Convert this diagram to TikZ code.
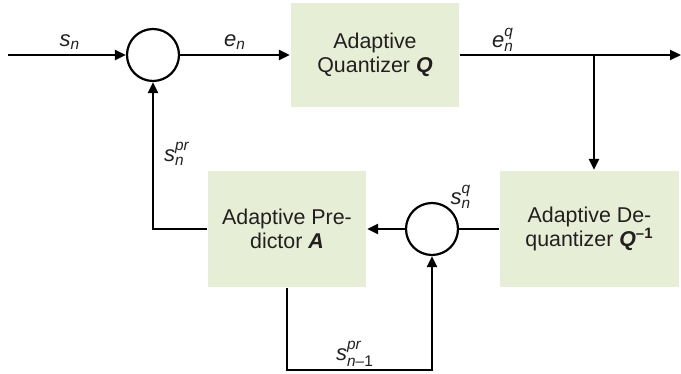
\documentclass[tikz,border=0pt]{standalone}
\usepackage{amsmath}
\usepackage{fontspec}
\setmainfont{Liberation Sans}
\definecolor{BoxGreen}{RGB}{230, 239, 214}
\definecolor{TextGray}{RGB}{35, 31, 32}
\usetikzlibrary{arrows.meta}
\newcommand{\iv}[1]{\text{\itshape #1}}

\begin{document}
\begin{tikzpicture}[x=0.5pt, y=0.5pt, line width=1.1pt,
  box/.style={fill=BoxGreen, align=center, text=TextGray, font=\fontsize{10.7}{12}\selectfont},
  sumnode/.style={circle, draw, fill=white, minimum size=26pt, inner sep=0pt},
  lbl/.style={text=TextGray, font=\fontsize{11}{12}\selectfont},
  flow/.style={-{Triangle[length=5.5pt, width=5pt]}}]
\useasboundingbox (0,0) rectangle (681,374);
\node[sumnode] (sumA) at (153,319) {};
\node[box, minimum width=84pt, minimum height=52pt] (quant) at (375,319) {Adaptive\\Quantizer \textbf{\textit{Q}}};
\node[box, minimum width=89.5pt, minimum height=58pt] (deq) at (589.5,145) {Adaptive De-\\quantizer \textbf{\textit{Q}}\textsuperscript{\textbf{\textendash1}}};
\node[box, minimum width=79pt, minimum height=58pt] (pred) at (287,145) {Adaptive Pre-\\dictor \textbf{\textit{A}}};
\node[sumnode] (sumB) at (432,145) {};
\coordinate (in) at (8,319);
\coordinate (out) at (681,319);
\coordinate (split) at (594,319);
\coordinate (low) at (432,4);
\draw[flow] (in) -- (sumA);
\draw[flow] (sumA) -- (quant);
\draw[flow] (quant) -- (out);
\draw[flow] (split) -- (split |- deq.north);
\draw (deq) -- (sumB);
\draw[flow] (sumB) -- (pred);
\draw[flow] (pred.south) |- (low) -- (sumB.south);
\draw[flow] (pred.west) -| (sumA.south);
\node[lbl] (sn) at (70,332) {$\iv{s}_{\iv{n}}$};
\node[lbl] (en) at (235,332) {$\iv{e}_{\iv{n}}$};
\node[lbl] (enq) at (503,334) {$\iv{e}_{\iv{n}}^{\iv{q}}$};
\node[lbl] (snpr) at (177,220) {$\iv{s}_{\iv{n}}^{\iv{pr}}$};
\node[lbl] (snq) at (461,177) {$\iv{s}_{\iv{n}}^{\iv{q}}$};
\node[lbl] (snprev) at (355,20) {$\iv{s}_{\iv{n}\text{\textendash1}}^{\iv{pr}}$};
\end{tikzpicture}
\end{document}
